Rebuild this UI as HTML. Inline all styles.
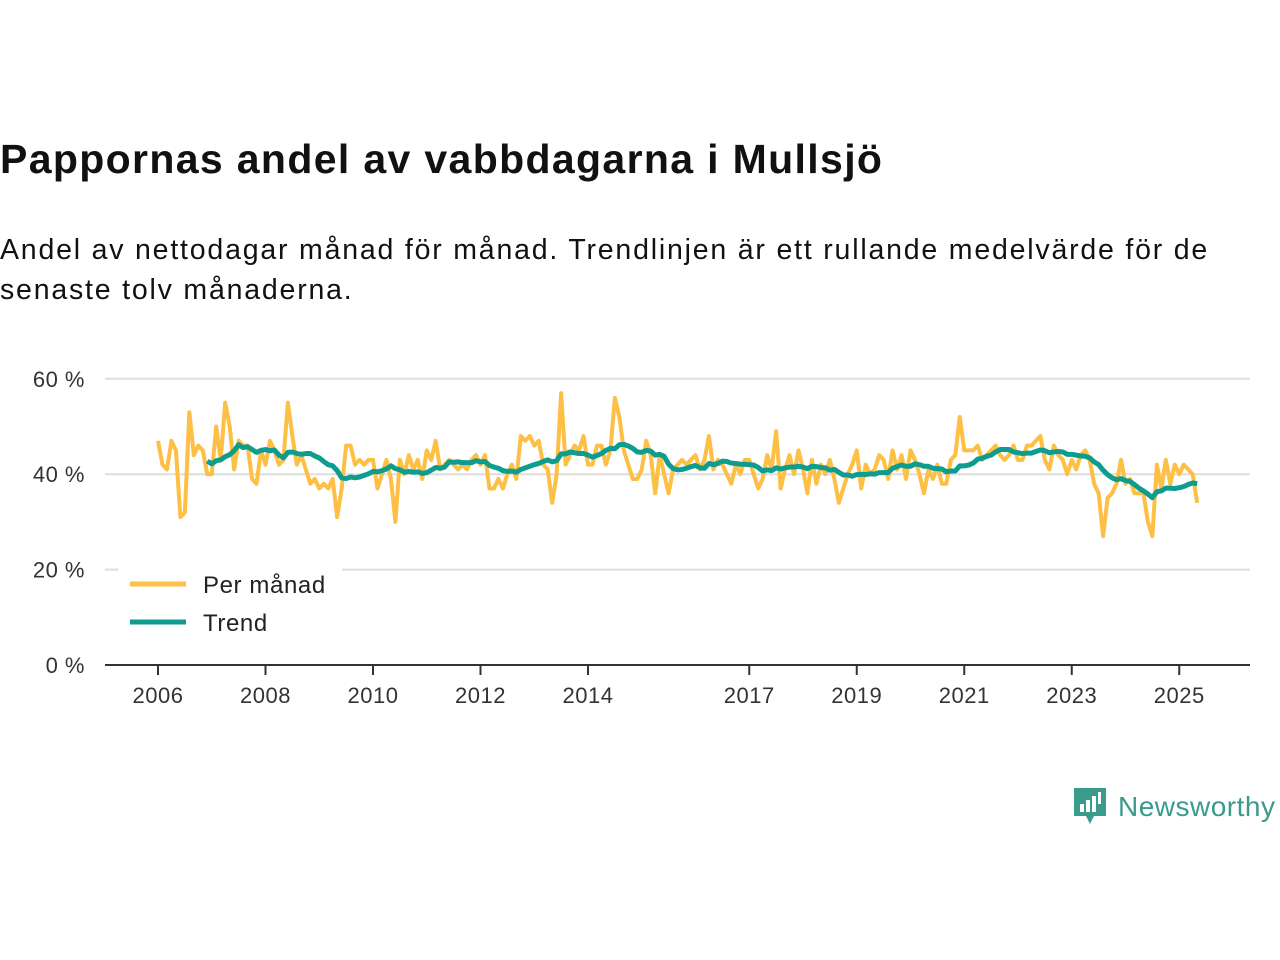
<!DOCTYPE html>
<html><head><meta charset="utf-8"><style>
body{margin:0;width:1280px;height:960px;background:#fff;font-family:"Liberation Sans",sans-serif;color:#111;position:relative;overflow:hidden}
h1{position:absolute;left:0;top:136px;margin:0;font-size:41px;font-weight:bold;letter-spacing:1.35px}
p{position:absolute;left:0;top:230px;margin:0;font-size:28.5px;line-height:40px;width:1250px;letter-spacing:1.8px}
svg{position:absolute;left:0;top:0}
</style></head><body>
<h1>Pappornas andel av vabbdagarna i Mullsjö</h1>
<p>Andel av nettodagar månad för månad. Trendlinjen är ett rullande medelvärde för de senaste tolv månaderna.</p>
<svg id="chart" width="1280" height="960"></svg>
<div style="position:absolute;left:1072px;top:786px;display:flex;align-items:center">
<svg width="36" height="42" style="position:static"><path d="M2 2h32v28H22l-4 8-4-8H2z" fill="#3a9a8c"/><rect x="8" y="18" width="4" height="8" fill="#fff"/><rect x="14" y="14" width="4" height="12" fill="#fff"/><rect x="20" y="10" width="4" height="16" fill="#fff"/><rect x="26" y="6" width="3" height="12" fill="#fff"/></svg>
<span style="font-size:28px;color:#3a9a8c;margin-left:10px;letter-spacing:0.5px">Newsworthy</span></div>
<script>
const years=[2006,2008,2010,2012,2014,2017,2019,2021,2023,2025];
const yTicks=[0,20,40,60];
const monthly=[47,42,41,47,45,31,32,53,44,46,45,40,
40,50,43,55,50,41,47,46,46,39,38,45,
42,47,45,42,43,55,48,42,44,41,38,39,
37,38,37,39,31,37,46,46,42,43,42,43,
43,37,40,43,39,30,43,40,44,41,43,39,
45,43,47,41,42,43,42,41,42,41,43,44,42,44,37,
37,39,37,40,42,39,48,47,48,46,47,42,
41,34,40,57,42,44,46,45,48,42,42,46,
46,42,45,56,52,45,42,39,39,41,47,44,
36,44,40,36,41,42,43,42,43,
44,41,43,48,41,43,42,40,38,42,40,43,
43,40,37,39,44,41,49,37,41,44,40,45,
41,36,43,38,42,40,43,39,34,
37,40,42,45,37,42,40,41,44,43,39,45,
41,44,39,45,43,40,36,41,39,42,38,38,
43,44,52,45,45,45,46,43,44,45,46,44,
43,44,46,43,43,46,46,47,48,43,41,46,
44,43,40,43,41,44,45,43,38,36,27,35,
36,38,43,38,39,36,36,36,30,27,42,37,
43,38,42,40,42,41,40,34];
const NS='http://www.w3.org/2000/svg';
const svg=document.getElementById('chart');
const x=t=>158+(t-2006)*53.75;
const y=v=>665-v*4.77;
function el(tag,attrs,parent){const e=document.createElementNS(NS,tag);for(const k in attrs)e.setAttribute(k,attrs[k]);(parent||svg).appendChild(e);return e;}
yTicks.forEach(v=>{
 const l=el('line',{x1:105,x2:1250,y1:y(v),y2:y(v),stroke:v?'#ddd':'#333','stroke-width':2});
 
 
 const t=el('text',{x:85,y:y(v)+8,'text-anchor':'end','font-size':22,fill:'#333','font-family':'Liberation Sans','letter-spacing':'0.5'});
 t.textContent=v+' %';
 
 
});
years.forEach(yr=>{
 const tk=el('line',{x1:x(yr),x2:x(yr),y1:665,y2:675,stroke:'#333','stroke-width':2});
 
 
 const t=el('text',{x:x(yr),y:703,'text-anchor':'middle','font-size':22,fill:'#333','font-family':'Liberation Sans','letter-spacing':'0.5'});
 t.textContent=yr;
 
 
});
const tm=i=>2006+i/12;
const p1=el('polyline',{points:monthly.map((v,i)=>x(tm(i))+','+y(v)).join(' '),fill:'none',stroke:'#fdbf44','stroke-width':4,'stroke-linejoin':'round'});


const trendPts=[];
for(let i=11;i<monthly.length;i++){let s=0;for(let j=i-11;j<=i;j++)s+=monthly[j];trendPts.push(x(tm(i))+','+y(s/12));}
const p2=el('polyline',{points:trendPts.join(' '),fill:'none',stroke:'#0e9c8e','stroke-width':5,'stroke-linejoin':'round'});


const lg=el('g',{});


el('rect',{x:118,y:565,width:224,height:80,fill:'#fff'},lg);
el('line',{x1:130,x2:186,y1:584,y2:584,stroke:'#fdbf44','stroke-width':5},lg);
el('line',{x1:130,x2:186,y1:622,y2:622,stroke:'#0e9c8e','stroke-width':5},lg);
const a=el('text',{x:203,y:593,'font-size':24,fill:'#222','letter-spacing':'0.6'},lg);a.textContent='Per månad';


const b=el('text',{x:203,y:631,'font-size':24,fill:'#222','letter-spacing':'0.6'},lg);b.textContent='Trend';


</script>
</body></html>
